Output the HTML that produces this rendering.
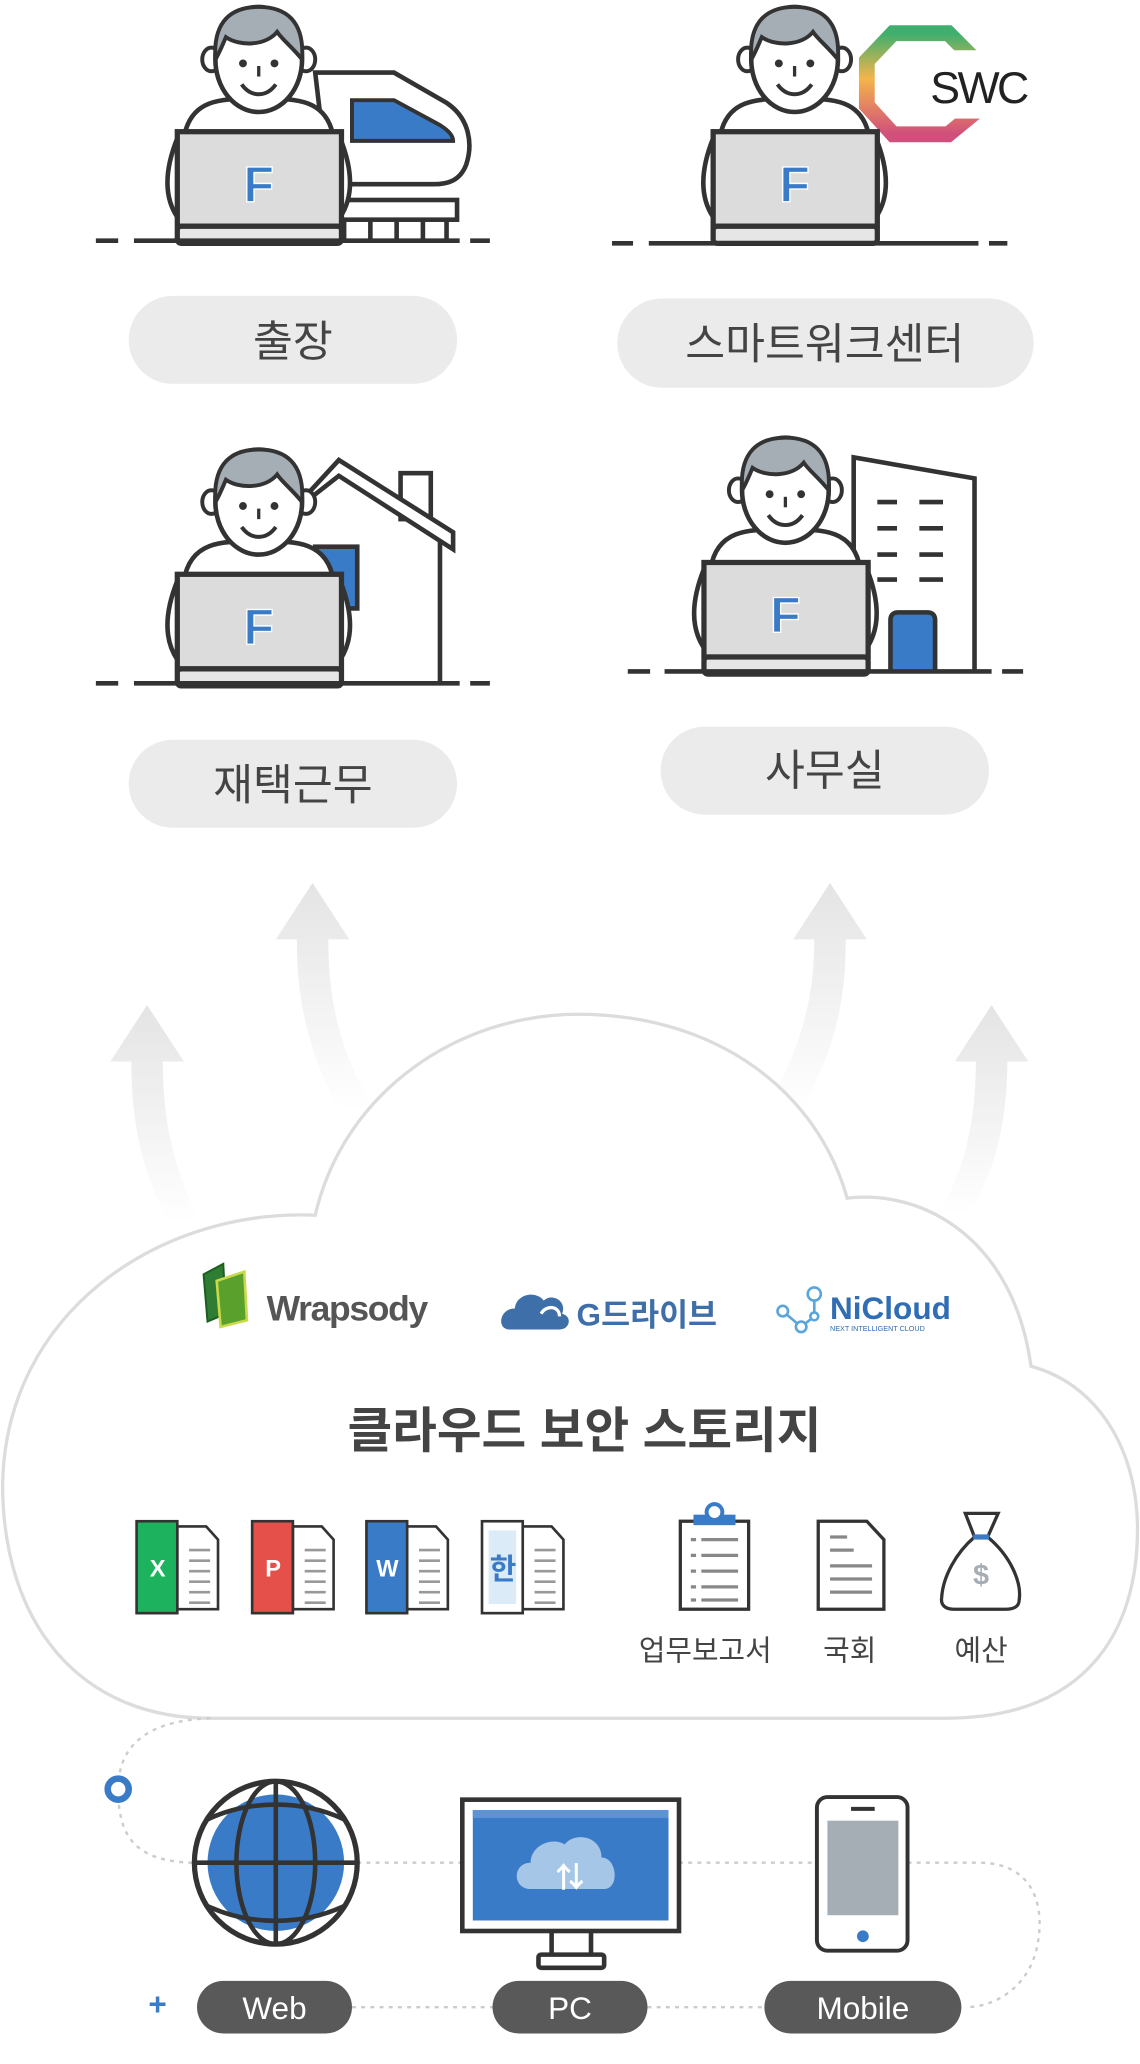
<!DOCTYPE html>
<html><head><meta charset="utf-8"><style>
html,body{margin:0;padding:0;background:#fff}
svg{display:block}
text{font-family:"Liberation Sans","Noto Sans CJK KR",sans-serif}
</style></head><body>
<svg width="1140" height="2064" viewBox="0 0 868 1571" xmlns="http://www.w3.org/2000/svg">
<defs>
<linearGradient id="ag" x1="0" y1="0" x2="0" y2="1">
<stop offset="0" stop-color="#e4e4e4"/><stop offset="1" stop-color="#fff"/></linearGradient>
<linearGradient id="swcg" x1="0" y1="0" x2="0" y2="1"><stop offset="0" stop-color="#3fae6e"/><stop offset="0.45" stop-color="#f4b54a"/><stop offset="1" stop-color="#d14f7c"/></linearGradient>
<g id="person">
 <path d="M-57 60 C-52 28 -25 30 0 30 C25 30 52 28 57 60 Z" fill="#fff" stroke="#333" stroke-width="3.5"/>
 <path d="M-62 60 C-72 85 -72 105 -62 120" fill="#fff" stroke="#333" stroke-width="3.5"/>
 <path d="M62 60 C72 85 72 105 62 120" fill="#fff" stroke="#333" stroke-width="3.5"/>
 <ellipse cx="-36" cy="0" rx="7" ry="9" fill="#fff" stroke="#333" stroke-width="3"/>
 <ellipse cx="36" cy="0" rx="7" ry="9" fill="#fff" stroke="#333" stroke-width="3"/>
 <ellipse cx="0" cy="0" rx="33" ry="40" fill="#fff" stroke="#333" stroke-width="3.5"/>
 <path d="M-33 0 C-35 -30 -20 -40 0 -40 C20 -40 35 -30 33 0 C25 -10 18 -15 14 -21 C5 -10 -15 -10 -25 -17 C-28 -10 -30 -5 -33 0 Z" fill="#a5adb5" stroke="#333" stroke-width="3"/>
 <circle cx="-12" cy="3" r="3" fill="#333"/><circle cx="12" cy="3" r="3" fill="#333"/>
 <path d="M-13 19 C-6 29 6 29 13 19" fill="none" stroke="#333" stroke-width="3"/>
 <path d="M0 5 L0 13" stroke="#333" stroke-width="2.5"/>
 <rect x="-62" y="55" width="125" height="72" fill="#dcdcdc" stroke="#333" stroke-width="4"/>
 <rect x="-62" y="127" width="125" height="13" rx="3" fill="#e6e6e6" stroke="#333" stroke-width="4"/>
 <text x="0" y="108" text-anchor="middle" font-size="38" font-weight="bold" fill="#3a7bc8" stroke="#fff" stroke-width="1">F</text>
</g>
</defs>

<g fill="url(#ag)">
<path d="M112 765 L140 808 L124 808 C124 860 135 895 152 930 L128 930 C110 895 100 860 100 808 L84 808 Z"/>
<path d="M238 672 L266 715 L250 715 C250 770 262 805 285 845 L258 845 C238 805 226 770 226 715 L210 715 Z"/>
<path d="M632 672 L660 715 L644 715 C644 770 632 805 610 845 L583 845 C605 805 620 770 620 715 L604 715 Z"/>
<path d="M755 765 L783 808 L767 808 C767 860 755 895 738 925 L714 925 C732 895 743 860 743 808 L727 808 Z"/>
</g>

<path d="M160 1308 C60 1308 2 1235 2 1130 C4 1000 120 920 240 925 C262 830 350 772 440 772 C545 772 622 830 645 912 C705 905 772 945 785 1040 C840 1055 868 1110 866 1170 C864 1250 820 1308 720 1308 Z" fill="#fff" stroke="#dcdcdc" stroke-width="2.5"/>

<g stroke="#333" stroke-width="3.5" fill="#fff">
<path d="M240 55 L300 55 L340 78 C358 90 360 110 355 125 C350 138 340 140 330 140 L250 140 Z"/>
<path d="M268 76 L300 76 L335 95 C343 100 345 104 345 107 L268 107 Z" fill="#3a7bc8" stroke-width="3"/>
<rect x="255" y="152" width="93" height="15"/>
<path d="M262 167 V183 M282 167 V183 M302 167 V183 M322 167 V183 M340 167 V183" />
</g>
<use href="#person" x="197" y="45"/>
<path d="M73 183 H90 M102 183 H350 M358 183 H373" stroke="#333" stroke-width="3.5"/>

<g>
<path d="M680 25 L722 25 L744 47 L744 84 L722 102 L680 102 L660 80 L660 46 Z" fill="#fff" stroke-width="12" stroke="url(#swcg)"/>
<rect x="698" y="38" width="60" height="52" fill="#fff"/>
<text x="745" y="78" text-anchor="middle" font-size="34" fill="#222" letter-spacing="-2">SWC</text>
</g>
<use href="#person" x="605" y="45"/>
<path d="M466 185 H482 M494 185 H745 M753 185 H767" stroke="#333" stroke-width="3.5"/>

<g stroke="#333" stroke-width="3.5" fill="#fff">
<rect x="305" y="360" width="23" height="35"/>
<path d="M235 375 L258 350 L345 405 L345 418 L258 362 L235 380 Z"/>
<path d="M335 412 V520"/>
<rect x="240" y="416" width="32" height="47" fill="#3a7bc8"/>
</g>
<use href="#person" x="197" y="382"/>
<path d="M73 520 H90 M102 520 H350 M358 520 H373" stroke="#333" stroke-width="3.5"/>

<g stroke="#333" stroke-width="3.5" fill="#fff">
<path d="M650 510 V348 L742 364 V510"/>
<path d="M668 382 H683 M700 382 H718 M668 402 H683 M700 402 H718 M668 422 H683 M700 422 H718 M668 441 H683 M700 441 H718"/>
<path d="M678 510 V472 Q678 466 684 466 H706 Q712 466 712 472 V510" fill="#3a7bc8"/>
</g>
<use href="#person" x="598" y="373"/>
<path d="M478 511 H495 M506 511 H755 M763 511 H779" stroke="#333" stroke-width="3.5"/>

<g fill="#ebebeb">
<rect x="98" y="225" width="250" height="67" rx="33.5"/>
<rect x="470" y="227" width="317" height="68" rx="34"/>
<rect x="98" y="563" width="250" height="67" rx="33.5"/>
<rect x="503" y="553" width="250" height="67" rx="33.5"/>
</g>
<g font-size="33" fill="#444" text-anchor="middle">
<text x="223" y="271">출장</text>
<text x="628" y="273">스마트워크센터</text>
<text x="223" y="609">재택근무</text>
<text x="628" y="598">사무실</text>
</g>

<g>
<path d="M155 970 L170 962 L172 1000 L158 1006 Z" fill="#2f7d32" stroke="#1b5e20" stroke-width="1.5"/>
<path d="M165 975 L186 968 L188 1005 L168 1010 Z" fill="#5aa02c" stroke="#c8d94a" stroke-width="2"/>
<text x="203" y="1005" font-size="27" font-weight="bold" fill="#555" letter-spacing="-1">Wrapsody</text>
<path d="M388 1012 C378 1012 380 996 392 996 C393 985 408 982 414 990 C420 984 432 990 428 1000 C436 1002 434 1012 426 1012 Z" fill="#3f6fa8"/>
<path d="M412 1000 C416 993 426 994 426 1002" fill="none" stroke="#fff" stroke-width="2.5"/>
<text x="439" y="1009" font-size="24" font-weight="bold" fill="#3f6fa8">G드라이브</text>
<g stroke="#5aa5dc" stroke-width="2" fill="#fff">
<path d="M596 998 L610 1010 L620 1002 L620 985"/>
<circle cx="596" cy="998" r="4"/><circle cx="610" cy="1010" r="4"/><circle cx="620" cy="1002" r="3"/><circle cx="620" cy="985" r="5"/>
</g>
<text x="632" y="1004" font-size="24" font-weight="bold" fill="#2f6db5">NiCloud</text>
<text x="632" y="1013" font-size="5.5" fill="#2f6db5">NEXT INTELLIGENT CLOUD</text>
</g>

<text x="445" y="1102" text-anchor="middle" font-size="37" font-weight="bold" fill="#444">클라우드 보안 스토리지</text>

<g stroke="#333" stroke-width="2">
<g>
<path d="M135 1162 H157 L166 1172 V1225 H135 Z" fill="#fff"/>
<path d="M144 1180 H160 M144 1188 H160 M144 1196 H160 M144 1204 H160 M144 1212 H160 M144 1220 H160" stroke="#999" stroke-width="2"/>
<rect x="104" y="1158" width="31" height="70" fill="#1db25e"/>
<text x="120" y="1200" text-anchor="middle" font-size="18" font-weight="bold" fill="#fff" stroke="none">X</text>
</g>
<g transform="translate(88 0)">
<path d="M135 1162 H157 L166 1172 V1225 H135 Z" fill="#fff"/>
<path d="M144 1180 H160 M144 1188 H160 M144 1196 H160 M144 1204 H160 M144 1212 H160 M144 1220 H160" stroke="#999" stroke-width="2"/>
<rect x="104" y="1158" width="31" height="70" fill="#e5504a"/>
<text x="120" y="1200" text-anchor="middle" font-size="18" font-weight="bold" fill="#fff" stroke="none">P</text>
</g>
<g transform="translate(175 0)">
<path d="M135 1162 H157 L166 1172 V1225 H135 Z" fill="#fff"/>
<path d="M144 1180 H160 M144 1188 H160 M144 1196 H160 M144 1204 H160 M144 1212 H160 M144 1220 H160" stroke="#999" stroke-width="2"/>
<rect x="104" y="1158" width="31" height="70" fill="#3a7bc8"/>
<text x="120" y="1200" text-anchor="middle" font-size="18" font-weight="bold" fill="#fff" stroke="none">W</text>
</g>
<g transform="translate(263 0)">
<path d="M135 1162 H157 L166 1172 V1225 H135 Z" fill="#fff"/>
<path d="M144 1180 H160 M144 1188 H160 M144 1196 H160 M144 1204 H160 M144 1212 H160 M144 1220 H160" stroke="#999" stroke-width="2"/>
<rect x="104" y="1158" width="31" height="70" fill="#fff"/>
<rect x="109" y="1165" width="21" height="56" fill="#dcebf8" stroke="none"/>
<text x="120" y="1202" text-anchor="middle" font-size="22" font-weight="bold" fill="#3a7bc8" stroke="none">한</text>
</g>
</g>

<g stroke="#333" stroke-width="2.5" fill="#fff">
<rect x="518" y="1158" width="52" height="67"/>
<rect x="528" y="1153" width="32" height="8" fill="#3a7bc8" stroke="none"/>
<circle cx="544" cy="1151" r="6" fill="#fff" stroke="#3a7bc8" stroke-width="3"/>
<path d="M526 1172 H530 M534 1172 H562 M526 1184 H530 M534 1184 H562 M526 1196 H530 M534 1196 H562 M526 1208 H530 M534 1208 H562 M526 1218 H530 M534 1218 H562" stroke="#888" stroke-width="2.5"/>
</g>
<g stroke="#333" stroke-width="2.5" fill="#fff">
<path d="M623 1158 H660 L673 1172 V1225 H623 Z"/>
<path d="M632 1170 H645 M632 1180 H650 M632 1192 H664 M632 1202 H664 M632 1212 H664" stroke="#888" stroke-width="2.5"/>
</g>
<g stroke="#333" stroke-width="2.5" fill="#fff">
<path d="M735 1152 L760 1152 L752 1170 C770 1185 778 1205 776 1218 C776 1224 770 1225 766 1225 H726 C720 1225 716 1222 717 1216 C718 1200 728 1182 742 1170 Z"/>
<path d="M741 1170 H753" stroke="#3a7bc8" stroke-width="4"/>
<text x="747" y="1206" text-anchor="middle" font-size="22" font-weight="bold" fill="#a5adb5" stroke="none">$</text>
</g>
<g font-size="22" fill="#444" text-anchor="middle">
<text x="537" y="1264">업무보고서</text>
<text x="647" y="1264">국회</text>
<text x="747" y="1264">예산</text>
</g>

<g fill="none" stroke="#ccc" stroke-width="1.8" stroke-dasharray="3 4">
<path d="M160 1308 C110 1310 90 1330 90 1362 C90 1395 100 1418 150 1418"/>
<path d="M272 1418 H352 M517 1418 H622 M691 1418 H745 C790 1418 795 1455 790 1480 C785 1510 760 1528 735 1528"/>
<path d="M268 1528 H375 M493 1528 H582"/>
</g>
<circle cx="90" cy="1362" r="8" fill="#fff" stroke="#3a7bc8" stroke-width="5"/>
<text x="120" y="1534" text-anchor="middle" font-size="24" font-weight="bold" fill="#3a7bc8">+</text>

<g>
<circle cx="210" cy="1418" r="62" fill="#fff" stroke="#333" stroke-width="4"/>
<circle cx="210" cy="1418" r="52" fill="#3a7bc8"/>
<g fill="none" stroke="#333" stroke-width="3.5">
<ellipse cx="210" cy="1418" rx="30" ry="62"/>
<path d="M210 1356 V1480 M148 1418 H272"/>
<path d="M158 1385 C190 1370 230 1370 262 1385"/>
<path d="M158 1451 C190 1466 230 1466 262 1451"/>
</g>
</g>

<g>
<rect x="352" y="1370" width="165" height="100" fill="#fff" stroke="#333" stroke-width="3.5"/>
<rect x="360" y="1378" width="149" height="84" fill="#3a7bc8"/>
<rect x="360" y="1378" width="149" height="6" fill="#5b93d6"/>
<path d="M404 1438 C390 1438 390 1418 404 1418 C404 1405 420 1398 430 1404 C438 1394 458 1398 458 1414 C470 1414 472 1438 460 1438 Z" fill="#a6c6e8"/>
<text x="434" y="1437" text-anchor="middle" font-size="22" font-weight="bold" fill="#fff">⇅</text>
<path d="M420 1470 V1488 M450 1470 V1488" stroke="#333" stroke-width="3.5"/>
<rect x="410" y="1488" width="50" height="10" rx="2" fill="#fff" stroke="#333" stroke-width="3.5"/>
</g>

<g>
<rect x="622" y="1368" width="69" height="117" rx="8" fill="#fff" stroke="#333" stroke-width="3"/>
<rect x="630" y="1386" width="54" height="72" fill="#a5adb5"/>
<path d="M648 1377 H666" stroke="#333" stroke-width="3"/>
<circle cx="657" cy="1474" r="4.5" fill="#3a7bc8"/>
</g>

<g fill="#595959">
<rect x="150" y="1508" width="118" height="40" rx="20"/>
<rect x="375" y="1508" width="118" height="40" rx="20"/>
<rect x="582" y="1508" width="150" height="40" rx="20"/>
</g>
<g font-size="24" fill="#fff" text-anchor="middle">
<text x="209" y="1537">Web</text>
<text x="434" y="1537">PC</text>
<text x="657" y="1537">Mobile</text>
</g>
</svg>
</body></html>
